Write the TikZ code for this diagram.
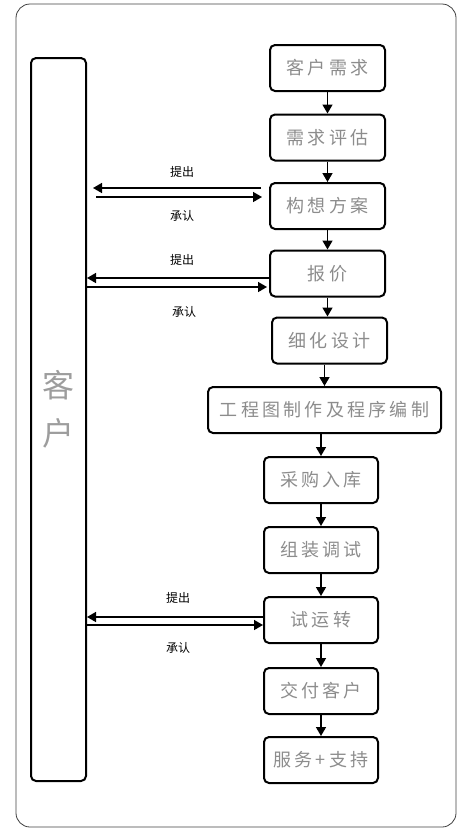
\documentclass[tikz,border=0pt]{standalone}
\usepackage{fontspec}
\usepackage{xcolor}
\usepackage{tikz}
\usetikzlibrary{arrows.meta, calc}
\newfontfamily\cjk{Noto Sans CJK SC}
\newfontfamily\cjkwide[LetterSpace=18]{Noto Sans CJK SC}
\definecolor{stepGray}{HTML}{8C8C8C}

\begin{document}
\begin{tikzpicture}[x=1pt, y=-1pt,
    stepbox/.style={draw, line width=2pt, rounded corners=5pt, minimum width=115pt,
        minimum height=46pt, inner sep=0pt, text=stepGray, font=\cjkwide\fontsize{18}{20}\selectfont},
    flow/.style={-{Triangle[length=9pt,width=10pt]}, line width=1.5pt},
    talk/.style={font=\cjk\fontsize{12}{14}\selectfont, inner sep=0pt}]
    \useasboundingbox (0,0) rectangle (474,839);
    \draw[black!75, line width=0.8pt, rounded corners=14pt] (16,4) rectangle (456,827);

    % customer column
    \node[stepbox, minimum width=55pt, minimum height=723pt] (client) at (58.5,419.5) {};
    \node[text=stepGray!85, align=center, inner sep=0pt, font=\cjk\fontsize{32}{48}\selectfont] (clientname) at (58,409) {客\\户};

    % process steps
    \node[stepbox] (need) at (327.5,68) {客户需求};
    \node[stepbox] (assess) at (327.5,137.5) {需求评估};
    \node[stepbox] (concept) at (327.5,206) {构想方案};
    \node[stepbox] (quote) at (327.5,273.5) {报价};
    \node[stepbox] (detail) at (329.5,340.5) {细化设计};
    \node[stepbox, minimum width=233pt] (drawing) at (324.5,410) {工程图制作及程序编制};
    \node[stepbox, minimum width=114pt] (purchase) at (321,480) {采购入库};
    \node[stepbox, minimum width=114pt] (assembly) at (321,550) {组装调试};
    \node[stepbox, minimum width=114pt] (trial) at (321,620) {试运转};
    \node[stepbox, minimum width=114pt] (deliver) at (321,691) {交付客户};
    \node[stepbox, minimum width=114pt] (service) at (321,760) {服务+支持};

    \draw[flow] (need.south) -- (need.south |- assess.north);
    \draw[flow] (assess.south) -- (assess.south |- concept.north);
    \draw[flow] (concept.south) -- (concept.south |- quote.north);
    \draw[flow] (quote.south) -- (quote.south |- detail.north);
    \draw[flow] (drawing.north |- detail.south) -- (drawing.north);
    \draw[flow] (drawing.south -| purchase.north) -- (purchase.north);
    \draw[flow] (purchase.south) -- (purchase.south |- assembly.north);
    \draw[flow] (assembly.south) -- (assembly.south |- trial.north);
    \draw[flow] (trial.south) -- (trial.south |- deliver.north);
    \draw[flow] (deliver.south) -- (deliver.south |- service.north);

    % exchanges with the customer
    \draw[flow] ($(concept.west)+(-8,-18)$) -- ($(client.east |- concept.west)+(6,-18)$);
    \draw[flow] ($(client.east |- concept.west)+(9,-9)$) -- ($(concept.west)+(-7,-9)$);
    \node[talk] (askA) at (182,172) {提出};
    \node[talk] (okA) at (182,216) {承认};

    \draw[flow] ($(quote.west)+(0,4.5)$) -- ($(client.east |- quote.west)+(0,4.5)$);
    \draw[flow] ($(client.east |- quote.west)+(0,13.5)$) -- ($(quote.west)+(-2,13.5)$);
    \node[talk] (askB) at (182,260) {提出};
    \node[talk] (okB) at (184,312) {承认};

    \draw[flow] ($(trial.west)+(0,-3)$) -- ($(client.east |- trial.west)+(0,-3)$);
    \draw[flow] ($(client.east |- trial.west)+(0,5)$) -- ($(trial.west)+(0,5)$);
    \node[talk] (askC) at (178,598) {提出};
    \node[talk] (okC) at (178,648) {承认};
\end{tikzpicture}
\end{document}
